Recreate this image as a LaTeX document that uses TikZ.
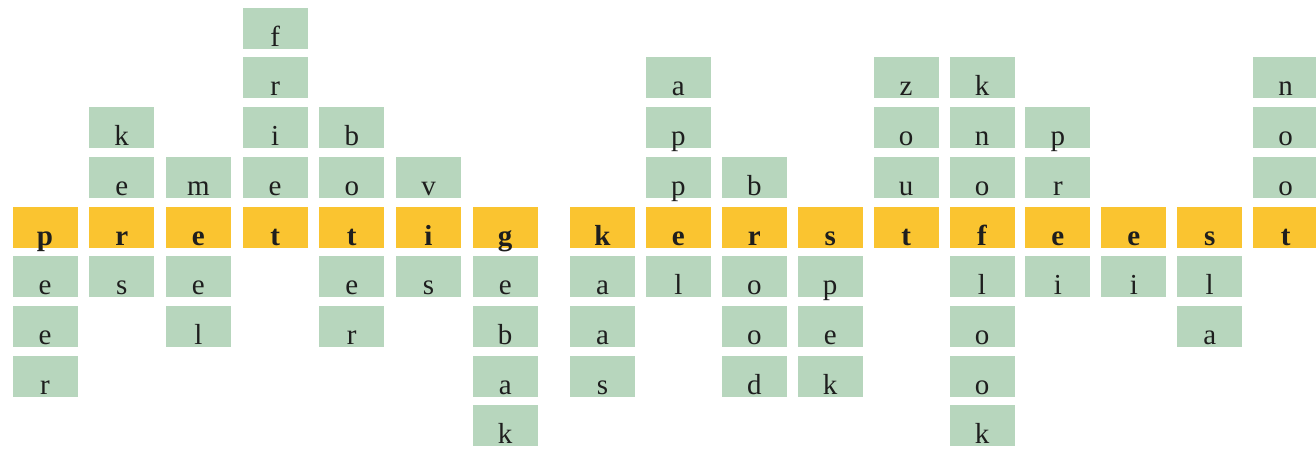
\documentclass[tikz,border=0pt]{standalone}
\usepackage{fontspec}
\setmainfont{Liberation Serif}
\usepackage{xcolor}
\usepackage{tikz}
\definecolor{geel}{RGB}{250, 196, 48}
\definecolor{groen}{RGB}{183, 214, 189}
\definecolor{inkt}{RGB}{30, 30, 30}
\tikzset{
    hoofd/.style={rectangle, fill=geel, minimum width=65pt, minimum height=41pt, inner sep=0pt, text height=36pt, text depth=0pt, text=inkt, font=\fontsize{29}{32}\selectfont\bfseries},
    vak/.style={rectangle, fill=groen, minimum width=65pt, minimum height=41pt, inner sep=0pt, text height=36pt, text depth=0pt, text=inkt, font=\fontsize{29}{32}\selectfont}
}

\begin{document}
\begin{tikzpicture}[x=1pt, y=1pt]
        \useasboundingbox (0,0) rectangle (1316,-452);

        % horizontal words
        \foreach \l [count=\i from 0] in {p,r,e,t,t,i,g}
            \node [hoofd] (pr-\i) at ({45+76.7*\i},-227) {\l};
        \foreach \l [count=\i from 0] in {k,e,r,s,t,f,e,e,s,t}
            \node [hoofd] (ks-\i) at ({602.5+75.9*\i},-227) {\l};

        % vertical words (word / place of the crossing letter)
        \foreach \word/\cross [count=\i from 0] in {{p,e,e,r}/1, {k,e,r,s}/3, {m,e,e,l}/2, {f,r,i,e,t}/5, {b,o,t,e,r}/3, {v,i,s}/2, {g,e,b,a,k}/1}
            \foreach \c [count=\k] in \word {
                \ifnum\k=\cross\else
                    \node [vak] (pr-\i-\k) at ({45+76.7*\i},{-227-49.7*(\k-\cross)}) {\c};
                \fi
            };
        \foreach \word/\cross [count=\i from 0] in {{k,a,a,s}/1, {a,p,p,e,l}/4, {b,r,o,o,d}/2, {s,p,e,k}/1, {z,o,u,t}/4, {k,n,o,f,l,o,o,k}/4, {p,r,e,i}/3, {e,i}/1, {s,l,a}/1, {n,o,o,t}/4}
            \foreach \c [count=\k] in \word {
                \ifnum\k=\cross\else
                    \node [vak] (ks-\i-\k) at ({602.5+75.9*\i},{-227-49.7*(\k-\cross)}) {\c};
                \fi
            };

    \end{tikzpicture}
\end{document}
